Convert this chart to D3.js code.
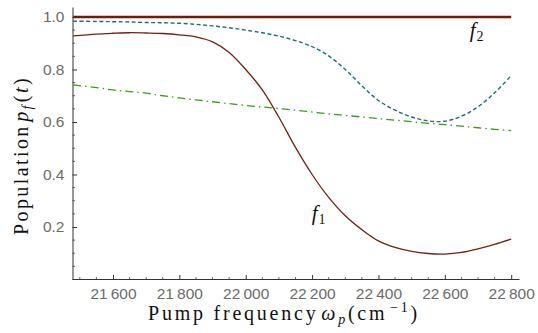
<!DOCTYPE html>
<html><head><meta charset="utf-8">
<script src="https://cdn.jsdelivr.net/npm/d3@7"></script>
<style>
body{margin:0;background:#fff;}
svg{display:block;}
</style></head>
<body>
<svg id="chart" width="538" height="333"></svg>
<script>
// ---- data ----
const omega = [21480,21550,21600,21650,21700,21750,21800,21850,21900,21950,22000,22050,22100,22150,22200,22250,22300,22350,22400,22450,22500,22550,22600,22650,22700,22750,22800];
const f1 = [0.928,0.935,0.938,0.940,0.939,0.937,0.932,0.924,0.905,0.865,0.800,0.722,0.618,0.503,0.400,0.313,0.243,0.190,0.147,0.122,0.107,0.099,0.097,0.103,0.117,0.134,0.154];
const f2 = omega.map(() => 1.0);
const dashedSeries = [0.984,0.983,0.982,0.981,0.979,0.978,0.976,0.972,0.966,0.959,0.950,0.940,0.927,0.910,0.887,0.852,0.800,0.738,0.682,0.645,0.619,0.604,0.603,0.622,0.658,0.711,0.777];
const dotDashSeries = [0.741,0.731,0.722,0.716,0.710,0.700,0.692,0.684,0.677,0.670,0.663,0.657,0.651,0.645,0.638,0.631,0.625,0.619,0.613,0.607,0.601,0.595,0.590,0.584,0.578,0.572,0.567];
const xTicks = [21600,21800,22000,22200,22400,22600,22800];
const yTicks = [0.2,0.4,0.6,0.8,1.0];
const xMinor = d3.range(21500, 22825, 50);
const yMinor = d3.range(0.05, 1.04, 0.05);
const labels = [{name:"f", sub:"2", x:22675, y:0.924},{name:"f", sub:"1", x:22199, y:0.227}];

const SERIF = '"Liberation Serif"';
const SANS = '"Liberation Sans"';

// ---- scales ----
const svg = d3.select("#chart");
const x = d3.scaleLinear().domain([21478, 22825]).range([72.5, 519.5]);
const y = d3.scaleLinear().domain([0, 1.038]).range([279.5, 7]);

const fmt = d => d3.format("d")(d).replace(/(\d\d)(\d\d\d)$/, "$1\u2009$2");

// lay out rich text as separate <text> runs (no tspans)
function richText(g, runs, opts) {
  const nodes = runs.map(r => g.append("text")
    .style("font-family", SERIF)
    .style("font-size", (r.size || opts.size) + "px")
    .style("font-style", r.italic ? "italic" : "normal")
    .attr("fill", "#111").text(r.t));
  const widths = nodes.map(n => n.node().getComputedTextLength());
  const total = d3.sum(widths);
  const nChars = d3.sum(runs, r => r.t.length);
  const extra = opts.target ? Math.max(0, (opts.target - total) / nChars) : 0;
  const full = total + extra * nChars;
  let cx = opts.anchor === "middle" ? -full / 2 : 0;
  nodes.forEach((n, i) => {
    n.attr("x", cx).attr("y", runs[i].dy || 0);
    if (extra) n.style("letter-spacing", extra + "px");
    cx += widths[i] + extra * runs[i].t.length + (runs[i].dx || 0);
  });
}

// minor ticks + axes
const gx = svg.append("g").attr("transform", `translate(0,${y(0)})`);
gx.selectAll("line.minor").data(xMinor.filter(v => !xTicks.includes(v))).enter().append("line")
  .attr("x1", d => x(d)).attr("x2", d => x(d)).attr("y1", 0).attr("y2", -2.5)
  .attr("stroke", "#444").attr("stroke-width", 0.8);
gx.call(d3.axisBottom(x).tickValues(xTicks).tickSizeInner(-4.5).tickSizeOuter(0).tickPadding(8).tickFormat(fmt));
gx.select(".domain").attr("stroke", "#333").attr("d", `M${x.range()[0]},0H${x.range()[1]}`);
gx.selectAll(".tick line").attr("stroke", "#333");
gx.selectAll(".tick text").attr("fill", "#6b6b6b").style("font-family", SANS).style("font-size", "15.5px");

const gy = svg.append("g").attr("transform", `translate(${x(21478)},0)`);
gy.selectAll("line.minor").data(yMinor.filter(v => !yTicks.some(t => Math.abs(t - v) < 1e-6))).enter().append("line")
  .attr("x1", 0).attr("x2", 2.5).attr("y1", d => y(d)).attr("y2", d => y(d))
  .attr("stroke", "#444").attr("stroke-width", 0.8);
gy.call(d3.axisLeft(y).tickValues(yTicks).tickSizeInner(-4.5).tickSizeOuter(0).tickPadding(8).tickFormat(d3.format(".1f")));
gy.select(".domain").attr("stroke", "#333");
gy.selectAll(".tick line").attr("stroke", "#333");
gy.selectAll(".tick text").attr("fill", "#6b6b6b").style("font-family", SANS).style("font-size", "15.5px");

// ---- lines ----
const line = vals => d3.line().x((d, i) => x(omega[i])).y(d => y(d)).curve(d3.curveCatmullRom.alpha(0.5))(vals);

svg.append("path").attr("d", line(dotDashSeries)).attr("fill", "none")
  .attr("stroke", "#3a9c1a").attr("stroke-width", 1.3).attr("stroke-dasharray", "8,4,1.5,4");
svg.append("path").attr("d", line(dashedSeries)).attr("fill", "none")
  .attr("stroke", "#1c6e7c").attr("stroke-width", 1.4).attr("stroke-dasharray", "4,2.5");
svg.append("path").attr("d", line(f1)).attr("fill", "none")
  .attr("stroke", "#6e2410").attr("stroke-width", 1.3);
svg.append("path").attr("d", line(f2)).attr("fill", "none")
  .attr("stroke", "#6a1f08").attr("stroke-width", 2.6);

// ---- curve labels ----
labels.forEach(l => {
  const g = svg.append("g").attr("transform", `translate(${x(l.x)},${y(l.y)})`);
  richText(g, [{t: l.name, italic: true, dx: 1}, {t: l.sub, size: 14, dy: 4}], {size: 21});
});

// ---- axis titles ----
const gxt = svg.append("g").attr("transform", "translate(148,320)");
richText(gxt, [
  {t: "Pump frequency ", dx: 0},
  {t: "ω", italic: true},
  {t: "p", italic: true, size: 14, dy: 4},
  {t: " (cm"},
  {t: "−1", size: 14, dy: -8},
  {t: ")"}
], {size: 20, target: 272});

const gyt = svg.append("g").attr("transform", "translate(28,156) rotate(-90)");
richText(gyt, [
  {t: "Population "},
  {t: "p", italic: true},
  {t: "f", italic: true, size: 14, dy: 4, dx: 1},
  {t: "("},
  {t: "t", italic: true},
  {t: ")"}
], {size: 20, target: 158, anchor: "middle"});
</script>
</body></html>
